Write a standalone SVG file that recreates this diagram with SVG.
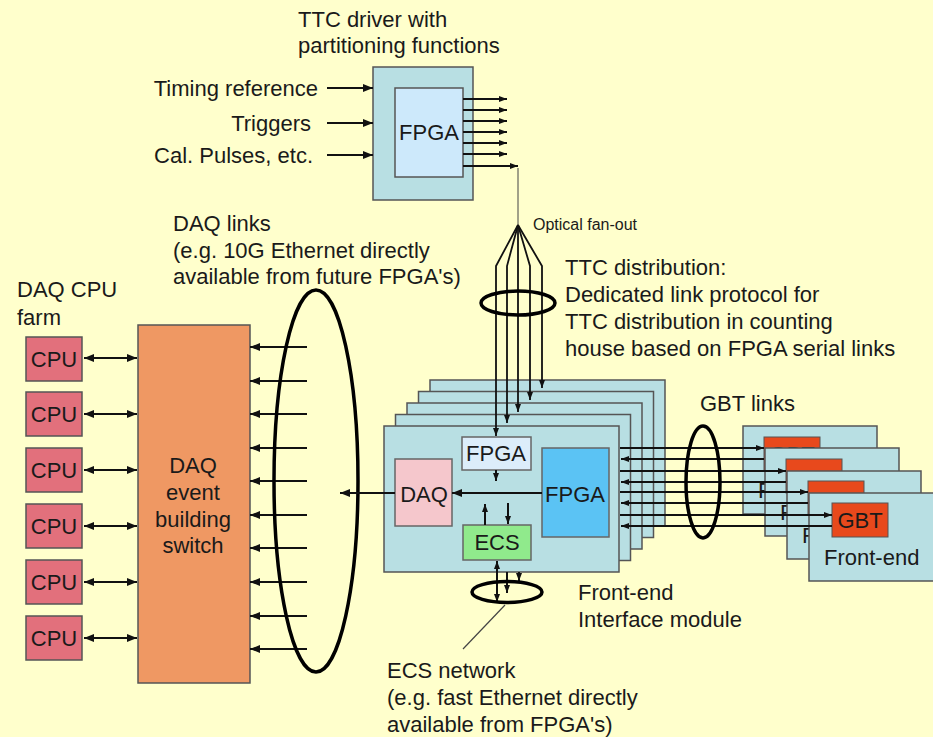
<svg xmlns="http://www.w3.org/2000/svg" width="933" height="737" viewBox="0 0 933 737">
<defs>
<style>
text{font-family:"Liberation Sans",Arial,sans-serif;font-size:22px;fill:#1a1a1a}
.board{fill:#b8dfe3;stroke:#555;stroke-width:1.5}
.cpu{fill:#e2707c;stroke:#555;stroke-width:1.5}
.gbt{fill:#e8491c;stroke:#555;stroke-width:1}
.ln{stroke:#111;stroke-width:2;fill:none}
.thin{stroke:#111;stroke-width:1.8;fill:none}
.ell{stroke:#000;stroke-width:3.5;fill:none}
.c{text-anchor:middle}
.e{text-anchor:end}
</style>
<marker id="ah" viewBox="0 0 10 8" refX="10" refY="4" markerWidth="10" markerHeight="8" markerUnits="userSpaceOnUse" orient="auto-start-reverse"><path d="M0,0L10,4L0,8z" fill="#111"/></marker>
<marker id="as" viewBox="0 0 8 6" refX="8" refY="3" markerWidth="8" markerHeight="6" markerUnits="userSpaceOnUse" orient="auto-start-reverse"><path d="M0,0L8,3L0,6z" fill="#111"/></marker>
</defs>
<rect width="933" height="737" fill="#ffffcc"/>

<!-- TTC driver -->
<g id="ttc-driver">
<rect class="board" x="373" y="67" width="100" height="133"/>
<rect x="395" y="88" width="68" height="89" fill="#cde9fb" stroke="#555" stroke-width="1.5"/>
<text class="c" x="429" y="140">FPGA</text>
</g>
<g id="ttc-label">
<text x="298" y="27">TTC driver with</text>
<text x="298" y="53">partitioning functions</text>
</g>
<g id="ttc-inputs">
<text class="e" x="318" y="96">Timing reference</text>
<text class="e" x="311" y="131">Triggers</text>
<text class="e" x="313" y="163">Cal. Pulses, etc.</text>
</g>

<!-- DAQ CPU farm -->
<g id="cpu-farm-label">
<text x="17" y="297">DAQ CPU</text>
<text x="17" y="325">farm</text>
</g>
<g id="cpu1"><rect class="cpu" x="26" y="337" width="56" height="44"/><text class="c" x="54" y="367">CPU</text></g>
<g id="cpu2"><rect class="cpu" x="26" y="392" width="56" height="44"/><text class="c" x="54" y="422">CPU</text></g>
<g id="cpu3"><rect class="cpu" x="26" y="448" width="56" height="44"/><text class="c" x="54" y="478">CPU</text></g>
<g id="cpu4"><rect class="cpu" x="26" y="504" width="56" height="44"/><text class="c" x="54" y="534">CPU</text></g>
<g id="cpu5"><rect class="cpu" x="26" y="560" width="56" height="44"/><text class="c" x="54" y="590">CPU</text></g>
<g id="cpu6"><rect class="cpu" x="26" y="616" width="56" height="44"/><text class="c" x="54" y="646">CPU</text></g>

<g id="daq-switch">
<rect x="138" y="325" width="112" height="358" fill="#ef9863" stroke="#555" stroke-width="1.5"/>
<text class="c" x="193" y="473">DAQ</text>
<text class="c" x="193" y="500">event</text>
<text class="c" x="193" y="527">building</text>
<text class="c" x="193" y="553">switch</text>
</g>

<g id="daq-links-label">
<text x="173" y="231">DAQ links</text>
<text x="173" y="258">(e.g. 10G Ethernet directly</text>
<text x="173" y="284">available from future FPGA's)</text>
</g>

<!-- Front-end interface module stack -->
<g id="fe-interface-module">
<rect class="board" x="430" y="380" width="235" height="146"/>
<rect class="board" x="418.5" y="391.5" width="235" height="146"/>
<rect class="board" x="407" y="403" width="235" height="146"/>
<rect class="board" x="395.5" y="414.5" width="235" height="146"/>
<rect class="board" x="384" y="426" width="235" height="146"/>
<rect x="462" y="437" width="69" height="33" fill="#dcedfa" stroke="#666" stroke-width="1.5"/>
<text class="c" x="496" y="461">FPGA</text>
<rect x="395" y="459" width="57" height="67" fill="#f5c7cc" stroke="#666" stroke-width="1.5"/>
<text class="c" x="424" y="502">DAQ</text>
<rect x="542" y="448" width="67" height="89" fill="#5bc3f4" stroke="#666" stroke-width="1.5"/>
<text class="c" x="575" y="502">FPGA</text>
<rect x="463" y="525" width="68" height="35" fill="#90ea8c" stroke="#666" stroke-width="1.5"/>
<text class="c" x="497" y="550">ECS</text>
</g>
<g id="fe-interface-label">
<text x="578" y="600">Front-end</text>
<text x="578" y="627">Interface module</text>
</g>

<!-- Front-end cards (back ones partly hidden) -->
<g id="frontend1"><rect class="board" x="743" y="426" width="134" height="88"/><rect class="gbt" x="764" y="437" width="56" height="34"/><text class="c" x="792" y="462">GBT</text><text x="758" y="498">F</text></g>
<g id="frontend2"><rect class="board" x="765" y="448" width="134" height="88"/><rect class="gbt" x="786" y="459" width="56" height="34"/><text x="780" y="520">F</text></g>
<g id="frontend3"><rect class="board" x="787" y="471" width="134" height="88"/><rect class="gbt" x="808" y="481" width="56" height="34"/><text x="802" y="543">F</text></g>
<g id="frontend4"><rect class="board" x="809" y="493" width="134" height="88"/><rect class="gbt" x="832" y="503" width="56" height="34"/><text class="c" x="860" y="528">GBT</text><text x="824" y="565">Front-end</text></g>

<g id="labels">
<text x="533" y="230" style="font-size:16px">Optical fan-out</text>
<text x="565" y="275">TTC distribution:</text>
<text x="565" y="302">Dedicated link protocol for</text>
<text x="565" y="329">TTC distribution in counting</text>
<text x="565" y="356">house based on FPGA serial links</text>
<text x="700" y="411">GBT links</text>
<text x="387" y="678">ECS network</text>
<text x="387" y="705">(e.g. fast Ethernet directly</text>
<text x="387" y="732">available from FPGA's)</text>
</g>

<!-- Connectors -->
<g id="connectors">
<!-- TTC inputs -->
<line class="ln" x1="327" y1="88" x2="373" y2="88" marker-end="url(#ah)"/>
<line class="ln" x1="327" y1="123" x2="373" y2="123" marker-end="url(#ah)"/>
<line class="ln" x1="327" y1="155" x2="373" y2="155" marker-end="url(#ah)"/>
<!-- TTC outputs -->
<line class="ln" x1="463" y1="99" x2="507" y2="99" marker-end="url(#as)"/>
<line class="ln" x1="463" y1="110" x2="507" y2="110" marker-end="url(#as)"/>
<line class="ln" x1="463" y1="121" x2="507" y2="121" marker-end="url(#as)"/>
<line class="ln" x1="463" y1="132" x2="507" y2="132" marker-end="url(#as)"/>
<line class="ln" x1="463" y1="143" x2="507" y2="143" marker-end="url(#as)"/>
<line class="ln" x1="463" y1="154" x2="507" y2="154" marker-end="url(#as)"/>
<line class="ln" x1="463" y1="166" x2="518" y2="166" marker-end="url(#as)"/>
<line x1="518" y1="168" x2="518" y2="225" stroke="#444" stroke-width="1"/>
<!-- optical fan-out -->
<polyline class="thin" points="518,225 496,266 496,436" marker-end="url(#as)"/>
<polyline class="thin" points="518,225 507,266 507,423" marker-end="url(#as)"/>
<polyline class="thin" points="518,225 518,412" marker-end="url(#as)"/>
<polyline class="thin" points="518,225 530,266 530,400" marker-end="url(#as)"/>
<polyline class="thin" points="518,225 542,266 542,388" marker-end="url(#as)"/>
<ellipse class="ell" cx="518" cy="303" rx="37" ry="12"/>
<!-- CPU links -->
<line class="ln" x1="84" y1="358" x2="137" y2="358" marker-start="url(#ah)" marker-end="url(#ah)"/>
<line class="ln" x1="84" y1="414" x2="137" y2="414" marker-start="url(#ah)" marker-end="url(#ah)"/>
<line class="ln" x1="84" y1="470" x2="137" y2="470" marker-start="url(#ah)" marker-end="url(#ah)"/>
<line class="ln" x1="84" y1="526" x2="137" y2="526" marker-start="url(#ah)" marker-end="url(#ah)"/>
<line class="ln" x1="84" y1="582" x2="137" y2="582" marker-start="url(#ah)" marker-end="url(#ah)"/>
<line class="ln" x1="84" y1="638" x2="137" y2="638" marker-start="url(#ah)" marker-end="url(#ah)"/>
<!-- DAQ links into switch -->
<line class="ln" x1="307" y1="347" x2="250" y2="347" marker-end="url(#ah)"/>
<line class="ln" x1="307" y1="381" x2="250" y2="381" marker-end="url(#ah)"/>
<line class="ln" x1="307" y1="414" x2="250" y2="414" marker-end="url(#ah)"/>
<line class="ln" x1="307" y1="448" x2="250" y2="448" marker-end="url(#ah)"/>
<line class="ln" x1="307" y1="481" x2="250" y2="481" marker-end="url(#ah)"/>
<line class="ln" x1="307" y1="515" x2="250" y2="515" marker-end="url(#ah)"/>
<line class="ln" x1="307" y1="548" x2="250" y2="548" marker-end="url(#ah)"/>
<line class="ln" x1="307" y1="582" x2="250" y2="582" marker-end="url(#ah)"/>
<line class="ln" x1="307" y1="616" x2="250" y2="616" marker-end="url(#ah)"/>
<line class="ln" x1="307" y1="649" x2="250" y2="649" marker-end="url(#ah)"/>
<ellipse class="ell" cx="316" cy="481" rx="42" ry="191"/>
<line class="ln" x1="395" y1="493" x2="340" y2="493" marker-end="url(#ah)"/>
<!-- inside module -->
<line class="ln" x1="542" y1="493" x2="452" y2="493" marker-end="url(#ah)"/>
<line class="ln" x1="496" y1="470" x2="496" y2="481" marker-end="url(#as)"/>
<line class="ln" x1="485" y1="525" x2="485" y2="504" marker-end="url(#as)"/>
<line class="ln" x1="508" y1="503" x2="508" y2="524" marker-end="url(#as)"/>
<!-- ECS network -->
<line class="ln" x1="497" y1="561" x2="497" y2="602" marker-start="url(#as)" marker-end="url(#as)"/>
<line class="ln" x1="507" y1="572" x2="507" y2="593" marker-end="url(#as)"/>
<line class="ln" x1="519" y1="572" x2="519" y2="581" marker-end="url(#as)"/>
<ellipse class="ell" cx="507" cy="592" rx="35" ry="10.5"/>
<line x1="505" y1="605" x2="463" y2="649" stroke="#444" stroke-width="1.2"/>
<!-- GBT links -->
<line class="ln" x1="620" y1="448" x2="764" y2="448" marker-end="url(#as)"/>
<line class="ln" x1="764" y1="459" x2="621" y2="459" marker-end="url(#as)"/>
<line class="ln" x1="620" y1="471" x2="786" y2="471" marker-end="url(#as)"/>
<line class="ln" x1="786" y1="482" x2="621" y2="482" marker-end="url(#as)"/>
<line class="ln" x1="620" y1="492" x2="808" y2="492" marker-end="url(#as)"/>
<line class="ln" x1="808" y1="503" x2="621" y2="503" marker-end="url(#as)"/>
<line class="ln" x1="620" y1="515" x2="832" y2="515" marker-end="url(#as)"/>
<line class="ln" x1="832" y1="526" x2="621" y2="526" marker-end="url(#as)"/>
<ellipse class="ell" cx="703" cy="482" rx="17" ry="56"/>
</g>
</svg>
